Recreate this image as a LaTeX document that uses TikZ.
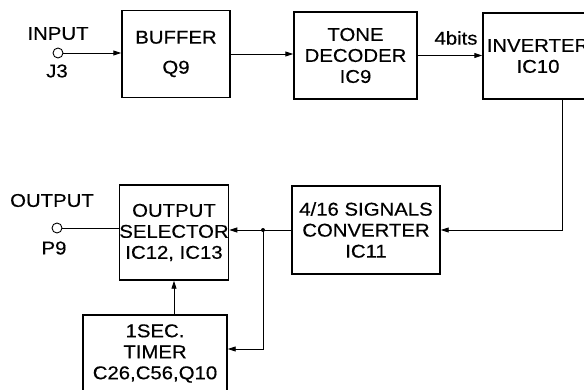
\documentclass[tikz,border=0pt]{standalone}
\usepackage{fontspec}
\setmainfont{Liberation Sans}[FakeStretch=1.1,FakeBold=0.4]
\usetikzlibrary{arrows.meta,calc}
\begin{document}
\begin{tikzpicture}[x=1pt,y=-1pt, font=\fontsize{18.5}{21}\selectfont,
 blk/.style={draw, line width=1.4pt, rectangle, inner sep=0pt, align=center},
 wire/.style={line width=0.9pt},
 arr/.style={wire, -{Triangle[length=8pt,width=5pt]}},
 term/.style={draw, circle, line width=0.9pt, minimum size=10pt, inner sep=0pt}]
\useasboundingbox (0,0) rectangle (584,389);
\node[blk, minimum width=108pt, minimum height=87pt] (buf) at (176,54) {BUFFER\\[9pt]Q9};
\node[blk, minimum width=123pt, minimum height=87pt] (tone) at (355.5,55.5) {TONE\\DECODER\\IC9};
\node[blk, minimum width=110pt, minimum height=86pt] (inv) at (538,56) {INVERTER\\IC10};
\node[blk, minimum width=148pt, minimum height=88pt] (conv) at (366,230) {4/16 SIGNALS\\CONVERTER\\IC11};
\node[blk, minimum width=106pt, minimum height=95pt] (sel) at (174,232.5) {OUTPUT\\SELECTOR\\IC12, IC13};
\node[blk, minimum width=144pt, minimum height=77pt] (tim) at (155,353.5) {1SEC.\\TIMER\\C26,C56,Q10};
\node[term] (in) at (58,53) {};
\node (inlbl) at (58,33.5) {INPUT};
\node (j3) at (57,71) {J3};
\node[term] (out) at (57,228) {};
\node (outlbl) at (52,200.5) {OUTPUT};
\node (p9) at (54,248) {P9};
\node (bits) at (456,38) {4bits};
\draw[arr] (in.east) -- (in.east -| buf.west);
\draw[arr] (buf.east) -- (buf.east -| tone.west);
\draw[arr] (tone.east) -- (tone.east -| inv.west);
\coordinate (drop) at (562,0);
\draw[arr] (inv.south -| drop) |- (conv.east);
\draw[arr] (conv.west) -- (conv.west -| sel.east);
\coordinate (j) at (263,230);
\fill (j) circle (2pt);
\draw[arr] (j) |- ([yshift=4.5pt]tim.east);
\draw[arr] (sel.south |- tim.north) -- (sel.south);
\draw[wire] (out.east) -- (out.east -| sel.west);
\end{tikzpicture}
\end{document}
